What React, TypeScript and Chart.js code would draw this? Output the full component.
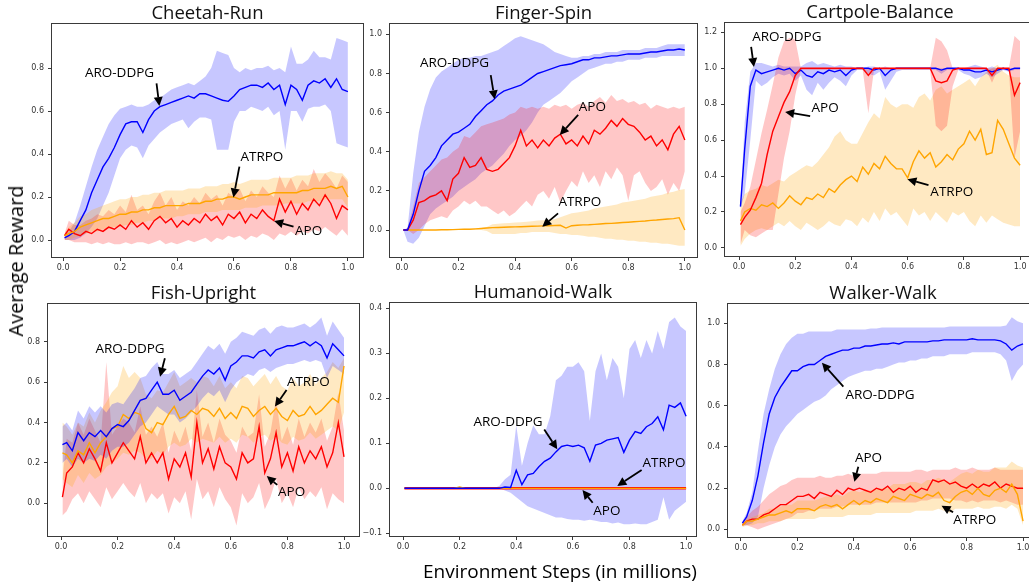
import React, { useEffect, useRef } from "react";
import { Chart, registerables } from "chart.js";

Chart.register(...registerables);

// ---------------- data ----------------
const STEPS = [
  0.005, 0.02, 0.04, 0.06, 0.08, 0.1, 0.12, 0.14, 0.16, 0.18,
  0.2, 0.22, 0.24, 0.26, 0.28, 0.3, 0.32, 0.34, 0.36, 0.38,
  0.4, 0.42, 0.44, 0.46, 0.48, 0.5, 0.52, 0.54, 0.56, 0.58,
  0.6, 0.62, 0.64, 0.66, 0.68, 0.7, 0.72, 0.74, 0.76, 0.78,
  0.8, 0.82, 0.84, 0.86, 0.88, 0.9, 0.92, 0.94, 0.96, 0.98,
  1.0,
];

const X_TICKS = [0, 0.2, 0.4, 0.6, 0.8, 1.0];
const Y_TICKS_A = [0, 0.2, 0.4, 0.6, 0.8];
const Y_TICKS_B = [0, 0.2, 0.4, 0.6, 0.8, 1.0];
const Y_TICKS_C = [0, 0.2, 0.4, 0.6, 0.8, 1.0, 1.2];
const Y_TICKS_D = [-0.1, 0, 0.1, 0.2, 0.3, 0.4];

// Cheetah-Run
const CHEETAH_ARO = [
  0.01, 0.02, 0.04, 0.09, 0.14, 0.22, 0.28, 0.34, 0.38, 0.43,
  0.49, 0.54, 0.55, 0.55, 0.5, 0.56, 0.6, 0.62, 0.63, 0.64,
  0.65, 0.66, 0.67, 0.66, 0.68, 0.68, 0.67, 0.66, 0.65, 0.645,
  0.67, 0.7, 0.71, 0.72, 0.72, 0.71, 0.73, 0.7, 0.72, 0.63,
  0.72, 0.7, 0.65, 0.72, 0.74, 0.73, 0.75, 0.71, 0.75, 0.7,
  0.69,
];
const CHEETAH_ARO_LO = [
  0.0, 0.0, 0.0, 0.01, 0.03, 0.06, 0.1, 0.16, 0.22, 0.3,
  0.38, 0.42, 0.44, 0.43, 0.38, 0.44, 0.47, 0.5, 0.52, 0.54,
  0.55, 0.56, 0.52, 0.55, 0.57, 0.57, 0.56, 0.42, 0.42, 0.42,
  0.55, 0.6, 0.6, 0.62, 0.61, 0.6, 0.62, 0.58, 0.6, 0.42,
  0.6, 0.6, 0.55, 0.61, 0.62, 0.62, 0.63, 0.6, 0.45, 0.44,
  0.43,
];
const CHEETAH_ARO_HI = [
  0.02, 0.04, 0.08, 0.16, 0.25, 0.34, 0.42, 0.48, 0.54, 0.58,
  0.61, 0.62, 0.63, 0.62, 0.62, 0.63, 0.65, 0.66, 0.68, 0.7,
  0.71, 0.72, 0.73, 0.72, 0.74, 0.76, 0.8, 0.88, 0.87, 0.86,
  0.8, 0.78, 0.8, 0.79, 0.8, 0.8, 0.81, 0.79, 0.8, 0.78,
  0.9, 0.82, 0.82, 0.84, 0.88, 0.85, 0.85, 0.84, 0.94, 0.93,
  0.92,
];
const CHEETAH_ATRPO = [
  0.02, 0.03, 0.04, 0.06, 0.07, 0.08, 0.09, 0.1, 0.1, 0.11,
  0.12, 0.12, 0.13, 0.13, 0.14, 0.14, 0.15, 0.15, 0.16, 0.16,
  0.16, 0.16, 0.17, 0.17, 0.17, 0.18, 0.18, 0.19, 0.19, 0.2,
  0.2, 0.19, 0.2, 0.21, 0.21, 0.21, 0.21, 0.22, 0.22, 0.22,
  0.22, 0.22, 0.23, 0.23, 0.24, 0.24, 0.24, 0.25, 0.24, 0.25,
  0.2,
];
const CHEETAH_ATRPO_LO = [
  0.0, 0.0, 0.01, 0.02, 0.03, 0.04, 0.04, 0.05, 0.05, 0.06,
  0.06, 0.07, 0.07, 0.08, 0.08, 0.09, 0.09, 0.1, 0.1, 0.1,
  0.11, 0.11, 0.12, 0.12, 0.12, 0.13, 0.13, 0.13, 0.14, 0.14,
  0.14, 0.14, 0.15, 0.15, 0.15, 0.16, 0.16, 0.16, 0.16, 0.17,
  0.17, 0.17, 0.17, 0.18, 0.18, 0.18, 0.19, 0.19, 0.19, 0.19,
  0.15,
];
const CHEETAH_ATRPO_HI = [
  0.03, 0.06, 0.08, 0.11, 0.12, 0.14, 0.15, 0.16, 0.17, 0.18,
  0.19, 0.19, 0.2, 0.2, 0.21, 0.21, 0.22, 0.22, 0.23, 0.23,
  0.23, 0.23, 0.24, 0.24, 0.24, 0.25, 0.25, 0.25, 0.26, 0.26,
  0.27, 0.26, 0.27, 0.28, 0.28, 0.28, 0.28, 0.29, 0.29, 0.29,
  0.29, 0.3, 0.3, 0.3, 0.31, 0.31, 0.31, 0.32, 0.31, 0.31,
  0.28,
];
const CHEETAH_APO = [
  0.02, 0.05, 0.03, 0.02, 0.04, 0.03, 0.05, 0.04, 0.06, 0.05,
  0.07, 0.05, 0.09, 0.06, 0.08, 0.05, 0.09, 0.11, 0.08, 0.1,
  0.06, 0.09, 0.07, 0.1, 0.08, 0.12, 0.09, 0.11, 0.07, 0.12,
  0.1, 0.13, 0.08, 0.12, 0.1, 0.14, 0.11, 0.09, 0.19, 0.13,
  0.18, 0.12, 0.17, 0.14, 0.19, 0.16, 0.21, 0.17, 0.1, 0.16,
  0.14,
];
const CHEETAH_APO_LO = [
  0.0, 0.0, -0.01, -0.01, -0.01, -0.02, -0.01, -0.02, -0.01, -0.02,
  -0.02, -0.01, -0.02, -0.01, -0.01, -0.02, -0.01, 0.0, -0.02, -0.01,
  -0.02, -0.01, 0.0, -0.01, 0.0, 0.01, -0.01, 0.01, 0.0, 0.02,
  0.01, 0.02, 0.0, 0.02, 0.01, 0.03, 0.02, 0.0, 0.03, 0.02,
  0.04, 0.02, 0.04, 0.03, 0.05, 0.04, 0.06, 0.04, 0.02, 0.05,
  0.02,
];
const CHEETAH_APO_HI = [
  0.03, 0.09, 0.07, 0.07, 0.09, 0.1, 0.12, 0.11, 0.14, 0.12,
  0.16, 0.13, 0.21, 0.14, 0.16, 0.12, 0.18, 0.22, 0.16, 0.2,
  0.14, 0.18, 0.16, 0.2, 0.17, 0.22, 0.19, 0.21, 0.16, 0.22,
  0.2, 0.24, 0.18, 0.23, 0.2, 0.25, 0.22, 0.2, 0.3, 0.24,
  0.29, 0.23, 0.28, 0.25, 0.33, 0.27, 0.31, 0.28, 0.24, 0.3,
  0.27,
];

// Finger-Spin
const FINGER_ARO = [
  0.0, 0.0, 0.08, 0.2, 0.3, 0.33, 0.37, 0.43, 0.46, 0.49,
  0.5, 0.52, 0.54, 0.58, 0.61, 0.64, 0.66, 0.69, 0.71, 0.72,
  0.73, 0.74, 0.76, 0.78, 0.8, 0.81, 0.82, 0.83, 0.84, 0.845,
  0.85, 0.86, 0.87, 0.87, 0.88, 0.88, 0.885, 0.89, 0.89, 0.895,
  0.9, 0.9, 0.9, 0.905, 0.91, 0.91, 0.915, 0.92, 0.92, 0.925,
  0.92,
];
const FINGER_ARO_LO = [
  0.0, -0.06, -0.07, -0.04, 0.02, 0.08, 0.11, 0.13, 0.15, 0.17,
  0.2, 0.22, 0.24, 0.26, 0.29, 0.31, 0.33, 0.36, 0.39, 0.43,
  0.46, 0.48, 0.51, 0.55, 0.6, 0.64, 0.66, 0.68, 0.7, 0.73,
  0.76, 0.78, 0.8, 0.82, 0.83, 0.84, 0.85, 0.85, 0.86, 0.86,
  0.87, 0.87, 0.87, 0.88, 0.88, 0.88, 0.89, 0.89, 0.89, 0.89,
  0.89,
];
const FINGER_ARO_HI = [
  0.0, 0.01, 0.29, 0.5, 0.63, 0.72, 0.78, 0.81, 0.83, 0.85,
  0.87, 0.88, 0.88, 0.89, 0.89, 0.9, 0.91, 0.92, 0.94, 0.96,
  0.98, 0.99, 0.98, 0.97, 0.96, 0.95, 0.93, 0.91, 0.9, 0.89,
  0.88, 0.88, 0.89, 0.89, 0.9, 0.9, 0.91, 0.91, 0.91, 0.92,
  0.92, 0.92, 0.92, 0.93, 0.93, 0.93, 0.94, 0.95, 0.95, 0.95,
  0.95,
];
const FINGER_APO = [
  0.0, 0.0, 0.05, 0.14, 0.15, 0.17, 0.18, 0.2, 0.15, 0.26,
  0.29, 0.37, 0.32, 0.33, 0.37, 0.31, 0.3, 0.31, 0.34, 0.37,
  0.43, 0.51, 0.43, 0.46, 0.42, 0.46, 0.43, 0.47, 0.49, 0.44,
  0.46, 0.43, 0.48, 0.44, 0.51, 0.49, 0.52, 0.56, 0.53, 0.57,
  0.54, 0.53, 0.5, 0.46, 0.48, 0.43, 0.46, 0.41, 0.49, 0.53,
  0.46,
];
const FINGER_APO_LO = [
  0.0, 0.0, -0.02, 0.0, 0.03, 0.05, 0.06, 0.07, 0.06, 0.1,
  0.12, 0.15, 0.13, 0.15, 0.12, 0.12, 0.1, 0.08, 0.1, 0.07,
  0.09, 0.12, 0.15, 0.12, 0.18, 0.2, 0.16, 0.22, 0.14, 0.2,
  0.25, 0.22, 0.3, 0.24, 0.28, 0.22, 0.3, 0.26, 0.32, 0.28,
  0.15, 0.28, 0.3, 0.24, 0.2, 0.22, 0.26, 0.18, 0.24, 0.2,
  0.3,
];
const FINGER_APO_HI = [
  0.0, 0.01, 0.12, 0.24, 0.27, 0.3, 0.33, 0.36, 0.37, 0.4,
  0.42, 0.48, 0.47, 0.5, 0.53, 0.54, 0.55, 0.56, 0.57, 0.59,
  0.6, 0.63, 0.62, 0.63, 0.62, 0.63, 0.62, 0.64, 0.63, 0.64,
  0.62, 0.64, 0.65, 0.63, 0.66, 0.68, 0.65, 0.69, 0.66, 0.67,
  0.65, 0.66, 0.64, 0.65, 0.62, 0.64, 0.63, 0.62, 0.63, 0.62,
  0.63,
];
const FINGER_ATRPO = [
  0.0, 0.0, 0.0, 0.0, 0.0, 0.0, 0.0, 0.001, 0.001, 0.002,
  0.003, 0.004, 0.004, 0.006, 0.008, 0.01, 0.012, 0.013, 0.014, 0.015,
  0.016, 0.017, 0.018, 0.019, 0.02, 0.021, 0.022, 0.023, 0.024, 0.01,
  0.022, 0.024, 0.026, 0.027, 0.029, 0.031, 0.033, 0.034, 0.036, 0.038,
  0.04, 0.042, 0.044, 0.046, 0.049, 0.051, 0.054, 0.056, 0.058, 0.063,
  0.0,
];
const FINGER_ATRPO_LO = [
  0.0, 0.0, 0.0, 0.0, 0.0, 0.0, 0.0, 0.0, 0.0, 0.0,
  0.0, 0.0, 0.0, 0.0, 0.0, -0.005, -0.02, -0.02, -0.02, -0.02,
  -0.02, -0.015, -0.015, -0.01, -0.01, -0.01, -0.01, -0.015, -0.02, -0.02,
  -0.025, -0.025, -0.03, -0.035, -0.035, -0.04, -0.045, -0.045, -0.05, -0.05,
  -0.055, -0.055, -0.06, -0.06, -0.065, -0.065, -0.07, -0.07, -0.075, -0.08,
  -0.08,
];
const FINGER_ATRPO_HI = [
  0.0, 0.0, 0.0, 0.0, 0.0, 0.0, 0.0, 0.0, 0.0, 0.0,
  0.005, 0.006, 0.007, 0.008, 0.01, 0.015, 0.03, 0.032, 0.034, 0.036,
  0.038, 0.04, 0.042, 0.045, 0.048, 0.05, 0.052, 0.055, 0.065, 0.075,
  0.085, 0.09, 0.095, 0.1, 0.11, 0.115, 0.12, 0.125, 0.13, 0.14,
  0.145, 0.15, 0.155, 0.16, 0.17, 0.175, 0.18, 0.19, 0.195, 0.205,
  0.21,
];

// Cartpole-Balance
const CART_ARO = [
  0.23, 0.55, 0.9, 0.99, 0.97, 0.98, 0.99, 1.0, 0.99, 1.0,
  0.97, 0.99, 0.96, 0.95, 0.98, 0.97, 0.99, 0.98, 0.99, 0.96,
  0.99, 1.0, 1.0, 1.0, 0.99, 1.0, 0.96, 0.99, 1.0, 1.0,
  1.0, 1.0, 1.0, 1.0, 1.0, 1.0, 0.99, 1.0, 1.0, 1.0,
  0.99, 0.99, 0.98, 0.98, 0.99, 0.98, 0.99, 1.0, 0.99, 1.0,
  1.0,
];
const CART_ARO_LO = [
  0.22, 0.3, 0.6, 0.93, 0.9, 0.92, 0.95, 0.97, 0.96, 0.97,
  0.93, 0.96, 0.88, 0.85, 0.92, 0.88, 0.92, 0.95, 0.93, 0.9,
  0.96, 0.99, 0.99, 0.97, 0.96, 0.98, 0.88, 0.93, 0.98, 0.99,
  0.99, 0.99, 0.99, 0.99, 0.99, 0.99, 0.97, 0.99, 0.99, 0.99,
  0.97, 0.96, 0.94, 0.95, 0.97, 0.95, 0.97, 0.99, 0.98, 0.99,
  0.99,
];
const CART_ARO_HI = [
  0.24, 0.7, 0.98, 1.03, 1.03, 1.02, 1.01, 1.02, 1.01, 1.01,
  1.01, 1.01, 1.03, 1.04, 1.02, 1.03, 1.02, 1.01, 1.02, 1.01,
  1.01, 1.0, 1.0, 1.01, 1.01, 1.0, 1.01, 1.0, 1.0, 1.0,
  1.0, 1.0, 1.0, 1.0, 1.0, 1.0, 1.0, 1.0, 1.0, 1.0,
  1.0, 1.01, 1.02, 1.01, 1.0, 1.01, 1.0, 1.0, 1.0, 1.0,
  1.0,
];
const CART_APO = [
  0.13, 0.17, 0.21, 0.28, 0.36, 0.52, 0.65, 0.73, 0.81, 0.87,
  0.96, 1.0, 1.0, 1.0, 1.0, 1.0, 1.0, 1.0, 1.0, 1.0,
  1.0, 1.0, 1.0, 0.96, 1.0, 1.0, 1.0, 1.0, 1.0, 1.0,
  1.0, 1.0, 1.0, 1.0, 1.0, 0.93, 0.92, 0.93, 0.99, 1.0,
  1.0, 1.0, 1.0, 1.0, 1.0, 0.96, 1.0, 1.0, 1.0, 0.85,
  0.92,
];
const CART_APO_LO = [
  0.02, 0.1, 0.07, 0.06, 0.08, 0.1, 0.1, 0.3, 0.5, 0.65,
  0.85, 0.99, 0.99, 0.99, 0.99, 0.99, 0.99, 0.99, 0.99, 0.99,
  0.99, 0.99, 0.99, 0.75, 0.99, 0.99, 0.99, 0.99, 0.99, 0.99,
  0.99, 0.99, 0.99, 0.99, 0.99, 0.68, 0.65, 0.68, 0.9, 0.99,
  0.99, 0.99, 0.99, 0.99, 0.99, 0.92, 0.99, 0.99, 0.99, 0.5,
  0.65,
];
const CART_APO_HI = [
  0.2, 0.25, 0.34, 0.49, 0.64, 0.77, 0.91, 1.06, 1.15, 1.17,
  1.16, 1.0, 1.0, 1.0, 1.0, 1.0, 1.0, 1.0, 1.0, 1.0,
  1.0, 1.0, 1.0, 1.0, 1.0, 1.0, 1.0, 1.0, 1.0, 1.0,
  1.0, 1.0, 1.0, 1.0, 1.0, 1.17, 1.15, 1.1, 1.0, 1.0,
  1.0, 1.0, 1.0, 1.0, 1.0, 1.0, 1.0, 1.0, 1.0, 1.18,
  1.15,
];
const CART_ATRPO = [
  0.15, 0.2, 0.22, 0.21, 0.24, 0.23, 0.25, 0.22, 0.25, 0.29,
  0.26, 0.24, 0.28, 0.27, 0.3, 0.28, 0.33, 0.31, 0.35, 0.38,
  0.4, 0.37, 0.45, 0.41, 0.47, 0.44, 0.51, 0.47, 0.44, 0.44,
  0.39, 0.48, 0.54, 0.5, 0.53, 0.45, 0.48, 0.52, 0.49, 0.55,
  0.58, 0.65, 0.6, 0.66, 0.52, 0.53, 0.71, 0.66, 0.58, 0.5,
  0.46,
];
const CART_ATRPO_LO = [
  0.01, 0.05, 0.08, 0.1, 0.11, 0.1, 0.12, 0.14, 0.12, 0.15,
  0.12, 0.1, 0.14, 0.12, 0.1, 0.12, 0.15, 0.13, 0.12, 0.16,
  0.15, 0.12, 0.17, 0.14, 0.2, 0.15, 0.22, 0.18, 0.2, 0.16,
  0.12, 0.22, 0.18, 0.2, 0.15, 0.2, 0.17, 0.14, 0.2, 0.18,
  0.2, 0.15, 0.12, 0.18, 0.14, 0.18, 0.16, 0.14, 0.13, 0.12,
  0.12,
];
const CART_ATRPO_HI = [
  0.25, 0.3, 0.32, 0.33, 0.35, 0.34, 0.36, 0.38, 0.37, 0.4,
  0.42, 0.44, 0.46, 0.45, 0.48, 0.52, 0.56, 0.62, 0.65, 0.6,
  0.58, 0.58, 0.64, 0.7, 0.75, 0.72, 0.84, 0.8, 0.78, 0.8,
  0.8, 0.78, 0.84, 0.86, 0.82, 0.88, 0.9, 0.86, 0.88, 0.9,
  0.92, 0.94, 0.9, 0.95, 0.98, 1.0, 1.02, 0.98, 0.96, 0.95,
  0.95,
];

// Fish-Upright
const FISH_ARO = [
  0.29, 0.3, 0.26, 0.35, 0.31, 0.35, 0.33, 0.36, 0.33, 0.37,
  0.39, 0.38, 0.41, 0.46, 0.51, 0.52, 0.56, 0.6, 0.54, 0.54,
  0.56, 0.51, 0.53, 0.55, 0.59, 0.63, 0.66, 0.64, 0.67, 0.61,
  0.68, 0.7, 0.73, 0.73, 0.72, 0.75, 0.76, 0.73, 0.76, 0.77,
  0.78, 0.78, 0.79, 0.8, 0.78, 0.8, 0.78, 0.72, 0.79, 0.76,
  0.73,
];
const FISH_ARO_LO = [
  0.2, 0.22, 0.18, 0.22, 0.2, 0.22, 0.21, 0.24, 0.22, 0.26,
  0.28, 0.28, 0.3, 0.34, 0.38, 0.4, 0.44, 0.48, 0.46, 0.44,
  0.44, 0.4, 0.42, 0.45, 0.48, 0.52, 0.55, 0.53, 0.56, 0.5,
  0.56, 0.6, 0.62, 0.64, 0.63, 0.66, 0.67, 0.65, 0.67, 0.68,
  0.69, 0.69, 0.7, 0.71, 0.7, 0.71, 0.7, 0.62, 0.68, 0.66,
  0.64,
];
const FISH_ARO_HI = [
  0.38, 0.4, 0.36, 0.46, 0.42, 0.48, 0.45, 0.48, 0.45, 0.49,
  0.5, 0.49, 0.53, 0.57, 0.62, 0.63, 0.67, 0.7, 0.64, 0.64,
  0.66, 0.62, 0.64, 0.66, 0.7, 0.74, 0.78, 0.76, 0.79, 0.74,
  0.8, 0.82, 0.85, 0.84, 0.83, 0.86, 0.87, 0.84, 0.87, 0.88,
  0.87, 0.87, 0.88, 0.89, 0.87, 0.89, 0.92, 0.83, 0.9, 0.86,
  0.82,
];
const FISH_ATRPO = [
  0.25, 0.24, 0.2, 0.26, 0.24, 0.3, 0.25, 0.3, 0.33, 0.37,
  0.38, 0.44, 0.42, 0.45, 0.44, 0.37, 0.35, 0.4, 0.39, 0.44,
  0.48, 0.42, 0.43, 0.46, 0.44, 0.47, 0.46, 0.43, 0.47, 0.42,
  0.45, 0.42, 0.48, 0.47, 0.43, 0.46, 0.48, 0.44, 0.47, 0.43,
  0.41, 0.46, 0.43, 0.44, 0.48, 0.44, 0.46, 0.49, 0.52, 0.5,
  0.68,
];
const FISH_ATRPO_LO = [
  0.12, 0.1, 0.08, 0.14, 0.1, 0.15, 0.12, 0.14, 0.18, 0.2,
  0.22, 0.25, 0.24, 0.26, 0.25, 0.22, 0.22, 0.26, 0.24, 0.28,
  0.3, 0.28, 0.29, 0.32, 0.3, 0.32, 0.31, 0.3, 0.33, 0.3,
  0.32, 0.3, 0.34, 0.33, 0.3, 0.33, 0.34, 0.31, 0.33, 0.3,
  0.29, 0.33, 0.31, 0.32, 0.35, 0.32, 0.34, 0.36, 0.38, 0.36,
  0.45,
];
const FISH_ATRPO_HI = [
  0.4, 0.38, 0.34, 0.4, 0.38, 0.45, 0.4, 0.46, 0.5, 0.55,
  0.58, 0.68, 0.62, 0.65, 0.62, 0.54, 0.52, 0.56, 0.55, 0.6,
  0.65, 0.58, 0.6, 0.62, 0.6, 0.63, 0.62, 0.58, 0.63, 0.57,
  0.6, 0.57, 0.63, 0.62, 0.58, 0.61, 0.64, 0.59, 0.63, 0.58,
  0.56, 0.62, 0.58, 0.6, 0.64, 0.59, 0.62, 0.65, 0.7, 0.67,
  0.72,
];
const FISH_APO = [
  0.03, 0.15, 0.18, 0.25, 0.2, 0.27, 0.22, 0.16, 0.3, 0.2,
  0.25, 0.3, 0.26, 0.22, 0.33, 0.2, 0.25, 0.2, 0.25, 0.12,
  0.22, 0.18, 0.25, 0.13, 0.4, 0.2, 0.27, 0.17, 0.28, 0.2,
  0.18, 0.12, 0.25, 0.2, 0.22, 0.38, 0.15, 0.22, 0.35, 0.18,
  0.25, 0.16, 0.28, 0.2, 0.26, 0.22, 0.28, 0.18, 0.25, 0.4,
  0.23,
];
const FISH_APO_LO = [
  -0.06, -0.04, 0.02, 0.05, 0.0, 0.06, 0.02, -0.02, 0.08, 0.02,
  0.06, 0.1, 0.06, 0.03, 0.1, 0.0, 0.05, 0.02, 0.05, -0.05,
  0.03, 0.0, 0.06, -0.08, 0.12, 0.02, 0.06, -0.02, 0.08, 0.02,
  -0.02, -0.11, 0.05, 0.0, 0.03, 0.1, -0.03, 0.03, 0.12, 0.0,
  0.05, -0.02, 0.08, 0.02, 0.06, 0.03, 0.08, -0.03, 0.05, 0.02,
  0.0,
];
const FISH_APO_HI = [
  0.12, 0.32, 0.3, 0.4, 0.34, 0.42, 0.36, 0.3, 0.7, 0.34,
  0.38, 0.42, 0.4, 0.35, 0.48, 0.34, 0.38, 0.33, 0.4, 0.25,
  0.36, 0.3, 0.38, 0.26, 0.56, 0.33, 0.4, 0.3, 0.42, 0.34,
  0.31, 0.25, 0.38, 0.33, 0.35, 0.54, 0.28, 0.35, 0.52, 0.31,
  0.38, 0.29, 0.42, 0.33, 0.4, 0.35, 0.42, 0.31, 0.38, 0.55,
  0.36,
];

// Humanoid-Walk
const HUM_ARO = [
  0, 0, 0, 0, 0, 0, 0, 0, 0, 0,
  0, 0, 0, 0, 0, 0, 0, 0, 0.003, 0.002,
  0.04, 0.008, 0.03, 0.033, 0.048, 0.06, 0.067, 0.081, 0.093, 0.096,
  0.093, 0.096, 0.09, 0.06, 0.096, 0.1, 0.107, 0.11, 0.113, 0.08,
  0.107, 0.126, 0.122, 0.137, 0.144, 0.159, 0.13, 0.185, 0.18, 0.19,
  0.16,
];
const HUM_ARO_LO = [
  0, 0, 0, 0, 0, 0, 0, 0, 0, 0,
  0, 0, 0, 0, 0, 0, 0, 0, -0.005, -0.01,
  -0.02, -0.03, -0.04, -0.045, -0.05, -0.055, -0.06, -0.065, -0.065, -0.068,
  -0.07, -0.07, -0.072, -0.07, -0.072, -0.075, -0.075, -0.078, -0.076, -0.08,
  -0.08, -0.078, -0.08, -0.08, -0.075, -0.07, -0.02, -0.07, -0.05, -0.04,
  -0.03,
];
const HUM_ARO_HI = [
  0, 0, 0, 0, 0, 0, 0, 0, 0, 0,
  0, 0, 0, 0, 0, 0, 0, 0.005, 0.02, 0.03,
  0.14, 0.05, 0.1, 0.14, 0.12, 0.12, 0.16, 0.24, 0.25, 0.27,
  0.27, 0.28, 0.26, 0.15, 0.26, 0.3, 0.24, 0.29, 0.27, 0.2,
  0.31, 0.33, 0.29, 0.33, 0.3, 0.35, 0.31, 0.37, 0.38, 0.36,
  0.35,
];
const HUM_APO = [
  0, 0, 0, 0, 0, 0, 0, 0, 0, 0,
  0, 0, 0, 0, 0, 0, 0, 0, 0, 0,
  0, 0, 0, 0, 0, 0, 0, 0, 0, 0,
  0, 0, 0, 0, 0, 0, 0, 0, 0, 0,
  0, 0, 0, 0, 0, 0, 0, 0, 0, 0,
  0,
];
const HUM_ATRPO = [
  0, 0, 0, 0, 0, 0, 0, 0, 0, 0,
  0.003, 0, 0, 0, 0, 0, 0, 0, 0, 0,
  0, 0, 0, 0, 0, 0, 0, 0, 0, 0,
  0, 0, 0, 0, 0, 0, 0, 0, 0, 0,
  0, 0, 0, 0, 0, 0, 0, 0, 0, 0,
  0,
];

// Walker-Walk
const WALK_ARO = [
  0.03, 0.06, 0.14, 0.26, 0.42, 0.56, 0.64, 0.69, 0.73, 0.77,
  0.77, 0.79, 0.8, 0.8, 0.82, 0.84, 0.85, 0.86, 0.87, 0.87,
  0.88, 0.88, 0.89, 0.89, 0.895, 0.9, 0.9, 0.905, 0.9, 0.91,
  0.91, 0.91, 0.91, 0.91, 0.915, 0.915, 0.92, 0.92, 0.92, 0.92,
  0.92, 0.925, 0.92, 0.92, 0.92, 0.92, 0.915, 0.9, 0.87, 0.89,
  0.9,
];
const WALK_ARO_LO = [
  0.02, 0.02, 0.03, 0.06, 0.2, 0.31, 0.4, 0.46, 0.5, 0.53,
  0.56, 0.58, 0.6, 0.62, 0.63, 0.65, 0.68, 0.7, 0.72, 0.74,
  0.75, 0.76, 0.77, 0.77, 0.78, 0.78, 0.79, 0.8, 0.81, 0.81,
  0.82, 0.82, 0.83, 0.83, 0.84, 0.84, 0.84, 0.85, 0.85, 0.85,
  0.85, 0.86, 0.86, 0.86, 0.86, 0.86, 0.85, 0.82, 0.72, 0.77,
  0.8,
];
const WALK_ARO_HI = [
  0.04, 0.08, 0.18, 0.38, 0.56, 0.68, 0.78, 0.85, 0.9, 0.93,
  0.95, 0.95, 0.96, 0.96, 0.96, 0.96, 0.96, 0.97, 0.97, 0.97,
  0.97, 0.97, 0.97, 0.975, 0.975, 0.98, 0.98, 0.98, 0.98, 0.98,
  0.98, 0.98, 0.98, 0.98, 0.98, 0.98, 0.98, 0.985, 0.985, 0.985,
  0.985, 0.985, 0.985, 0.985, 0.985, 0.985, 0.985, 0.99, 1.03, 1.01,
  1.0,
];
const WALK_APO = [
  0.02, 0.04, 0.05, 0.05, 0.07, 0.08, 0.1, 0.12, 0.12, 0.14,
  0.16, 0.16, 0.17, 0.15, 0.18, 0.17, 0.16, 0.19, 0.17, 0.2,
  0.19, 0.2, 0.19, 0.18, 0.2, 0.19, 0.21, 0.18, 0.2, 0.19,
  0.21, 0.18, 0.2, 0.19, 0.24, 0.23, 0.24, 0.22, 0.23, 0.21,
  0.2, 0.22, 0.2, 0.22, 0.21, 0.23, 0.2, 0.22, 0.21, 0.2,
  0.2,
];
const WALK_APO_LO = [
  0.02, 0.02, 0.01, 0.0, 0.01, 0.02, 0.03, 0.04, 0.05, 0.06,
  0.08, 0.08, 0.09, 0.09, 0.1, 0.1, 0.1, 0.11, 0.11, 0.12,
  0.12, 0.12, 0.12, 0.12, 0.13, 0.13, 0.13, 0.13, 0.13, 0.13,
  0.13, 0.13, 0.14, 0.14, 0.15, 0.15, 0.15, 0.15, 0.14, 0.14,
  0.13, 0.14, 0.13, 0.14, 0.14, 0.14, 0.13, 0.14, 0.13, 0.12,
  0.12,
];
const WALK_APO_HI = [
  0.03, 0.06, 0.09, 0.11, 0.14, 0.17, 0.19, 0.21, 0.22, 0.24,
  0.25, 0.25, 0.25, 0.25, 0.26, 0.25, 0.25, 0.26, 0.26, 0.27,
  0.26, 0.27, 0.27, 0.27, 0.27, 0.28, 0.28, 0.28, 0.28, 0.28,
  0.28, 0.29, 0.29, 0.28, 0.29, 0.29, 0.29, 0.29, 0.3, 0.29,
  0.29, 0.3, 0.29, 0.29, 0.29, 0.3, 0.29, 0.29, 0.29, 0.29,
  0.29,
];
const WALK_ATRPO = [
  0.02, 0.04, 0.04, 0.05, 0.06, 0.07, 0.07, 0.08, 0.09, 0.08,
  0.1, 0.1, 0.1, 0.09, 0.11, 0.12, 0.11, 0.12, 0.1, 0.12,
  0.14, 0.12, 0.14, 0.13, 0.15, 0.14, 0.13, 0.16, 0.15, 0.14,
  0.17, 0.16, 0.15, 0.17, 0.16, 0.18, 0.14, 0.13, 0.16, 0.18,
  0.19, 0.17, 0.2, 0.17, 0.16, 0.19, 0.2, 0.18, 0.22, 0.17,
  0.04,
];
const WALK_ATRPO_LO = [
  0.01, 0.02, 0.02, 0.03, 0.03, 0.04, 0.04, 0.04, 0.05, 0.05,
  0.05, 0.05, 0.05, 0.05, 0.06, 0.06, 0.06, 0.06, 0.06, 0.07,
  0.07, 0.07, 0.07, 0.07, 0.08, 0.08, 0.08, 0.08, 0.08, 0.08,
  0.08, 0.09, 0.09, 0.09, 0.09, 0.1, 0.09, 0.08, 0.1, 0.1,
  0.1, 0.1, 0.11, 0.1, 0.1, 0.11, 0.11, 0.1, 0.12, 0.1,
  0.02,
];
const WALK_ATRPO_HI = [
  0.03, 0.05, 0.06, 0.07, 0.08, 0.1, 0.1, 0.11, 0.12, 0.12,
  0.14, 0.14, 0.14, 0.14, 0.15, 0.16, 0.16, 0.17, 0.16, 0.18,
  0.19, 0.18, 0.19, 0.19, 0.2, 0.2, 0.2, 0.22, 0.22, 0.22,
  0.23, 0.23, 0.22, 0.24, 0.24, 0.25, 0.24, 0.23, 0.25, 0.27,
  0.28, 0.27, 0.29, 0.28, 0.28, 0.3, 0.3, 0.3, 0.33, 0.31,
  0.3,
];

// ---------------- styling / layout ----------------
type Key = "aro" | "apo" | "atrpo";
const LINE_COLOR: Record<Key, string> = { aro: "#0000ff", apo: "#ff0000", atrpo: "#ffa500" };
const BAND_COLOR: Record<Key, string> = {
  aro: "rgba(0,0,255,0.22)",
  apo: "rgba(255,0,0,0.22)",
  atrpo: "rgba(255,165,0,0.24)",
};

interface Series { key: Key; mean: number[]; lo?: number[]; hi?: number[]; width?: number }
interface Note { text: string; at: [number, number]; from: [number, number]; to: [number, number] }
interface PanelCfg {
  title: string;
  box: [number, number, number, number];
  x: [number, number];
  y: [number, number];
  yTicks: number[];
  series: Series[];
  lineOrder: Key[];
  notes: Note[];
}

const PANELS: PanelCfg[] = [
  {
    title: "Cheetah-Run",
    box: [52, 24, 311, 233],
    x: [-0.039, 1.053],
    y: [-0.079, 1.0047],
    yTicks: Y_TICKS_A,
    series: [
      { key: "aro", mean: CHEETAH_ARO, lo: CHEETAH_ARO_LO, hi: CHEETAH_ARO_HI },
      { key: "apo", mean: CHEETAH_APO, lo: CHEETAH_APO_LO, hi: CHEETAH_APO_HI },
      { key: "atrpo", mean: CHEETAH_ATRPO, lo: CHEETAH_ATRPO_LO, hi: CHEETAH_ATRPO_HI },
    ],
    lineOrder: ["aro", "apo", "atrpo"],
    notes: [
      { text: "ARO-DDPG", at: [0.198, 0.775], from: [0.328, 0.729], to: [0.338, 0.623] },
      { text: "ATRPO", at: [0.698, 0.385], from: [0.619, 0.341], to: [0.598, 0.198] },
      { text: "APO", at: [0.862, 0.043], from: [0.809, 0.062], to: [0.741, 0.088] },
    ],
  },
  {
    title: "Finger-Spin",
    box: [390, 24, 307, 233],
    x: [-0.042, 1.043],
    y: [-0.138, 1.053],
    yTicks: Y_TICKS_B,
    series: [
      { key: "aro", mean: FINGER_ARO, lo: FINGER_ARO_LO, hi: FINGER_ARO_HI },
      { key: "apo", mean: FINGER_APO, lo: FINGER_APO_LO, hi: FINGER_APO_HI },
      { key: "atrpo", mean: FINGER_ATRPO, lo: FINGER_ATRPO_LO, hi: FINGER_ATRPO_HI },
    ],
    lineOrder: ["atrpo", "apo", "aro"],
    notes: [
      { text: "ARO-DDPG", at: [0.186, 0.852], from: [0.314, 0.792], to: [0.328, 0.668] },
      { text: "APO", at: [0.673, 0.627], from: [0.623, 0.588], to: [0.558, 0.486] },
      { text: "ATRPO", at: [0.629, 0.141], from: [0.552, 0.085], to: [0.496, 0.017] },
    ],
  },
  {
    title: "Cartpole-Balance",
    box: [725, 23, 310, 233],
    x: [-0.05, 1.053],
    y: [-0.045, 1.252],
    yTicks: Y_TICKS_C,
    series: [
      { key: "atrpo", mean: CART_ATRPO, lo: CART_ATRPO_LO, hi: CART_ATRPO_HI },
      { key: "aro", mean: CART_ARO, lo: CART_ARO_LO, hi: CART_ARO_HI },
      { key: "apo", mean: CART_APO, lo: CART_APO_LO, hi: CART_APO_HI },
    ],
    lineOrder: ["atrpo", "aro", "apo"],
    notes: [
      { text: "ARO-DDPG", at: [0.17, 1.174], from: [0.043, 1.119], to: [0.053, 1.007] },
      { text: "APO", at: [0.306, 0.776], from: [0.253, 0.733], to: [0.164, 0.757] },
      { text: "ATRPO", at: [0.757, 0.312], from: [0.674, 0.349], to: [0.599, 0.382] },
    ],
  },
  {
    title: "Fish-Upright",
    box: [48, 304, 311, 232],
    x: [-0.046, 1.053],
    y: [-0.162, 0.987],
    yTicks: Y_TICKS_A,
    series: [
      { key: "apo", mean: FISH_APO, lo: FISH_APO_LO, hi: FISH_APO_HI },
      { key: "atrpo", mean: FISH_ATRPO, lo: FISH_ATRPO_LO, hi: FISH_ATRPO_HI },
      { key: "aro", mean: FISH_ARO, lo: FISH_ARO_LO, hi: FISH_ARO_HI },
    ],
    lineOrder: ["apo", "atrpo", "aro"],
    notes: [
      { text: "ARO-DDPG", at: [0.244, 0.764], from: [0.367, 0.718], to: [0.35, 0.627] },
      { text: "ATRPO", at: [0.874, 0.602], from: [0.797, 0.561], to: [0.756, 0.479] },
      { text: "APO", at: [0.815, 0.053], from: [0.764, 0.091], to: [0.727, 0.135] },
    ],
  },
  {
    title: "Humanoid-Walk",
    box: [390, 303, 306, 233],
    x: [-0.046, 1.035],
    y: [-0.106, 0.412],
    yTicks: Y_TICKS_D,
    series: [
      { key: "aro", mean: HUM_ARO, lo: HUM_ARO_LO, hi: HUM_ARO_HI },
      { key: "apo", mean: HUM_APO, width: 2.4 },
      { key: "atrpo", mean: HUM_ATRPO, width: 1.3 },
    ],
    lineOrder: ["apo", "atrpo", "aro"],
    notes: [
      { text: "ARO-DDPG", at: [0.371, 0.146], from: [0.499, 0.131], to: [0.545, 0.087] },
      { text: "ATRPO", at: [0.922, 0.057], from: [0.843, 0.041], to: [0.757, 0.005] },
      { text: "APO", at: [0.72, -0.05], from: [0.67, -0.032], to: [0.634, -0.004] },
    ],
  },
  {
    title: "Walker-Walk",
    box: [728, 304, 310, 233],
    x: [-0.046, 1.053],
    y: [-0.037, 1.094],
    yTicks: Y_TICKS_B,
    series: [
      { key: "aro", mean: WALK_ARO, lo: WALK_ARO_LO, hi: WALK_ARO_HI },
      { key: "apo", mean: WALK_APO, lo: WALK_APO_LO, hi: WALK_APO_HI },
      { key: "atrpo", mean: WALK_ATRPO, lo: WALK_ATRPO_LO, hi: WALK_ATRPO_HI },
    ],
    lineOrder: ["apo", "atrpo", "aro"],
    notes: [
      { text: "ARO-DDPG", at: [0.493, 0.652], from: [0.363, 0.693], to: [0.287, 0.809] },
      { text: "APO", at: [0.452, 0.345], from: [0.416, 0.304], to: [0.402, 0.231] },
      { text: "ATRPO", at: [0.829, 0.045], from: [0.752, 0.083], to: [0.711, 0.115] },
    ],
  },
];

const YW = 40; // y-axis strip width
const XH = 22; // x-axis strip height
const PT = 30; // room for the title
const PR = 14; // right padding

const fmt = (v: number) => {
  const s = Math.abs(v) < 1e-9 ? "0.0" : v.toFixed(1);
  return s.replace("-", "\u2212");
};

const pts = (arr: number[]) => STEPS.map((x, i) => ({ x, y: arr[i] }));

function drawArrow(ctx: CanvasRenderingContext2D, x0: number, y0: number, x1: number, y1: number) {
  const ang = Math.atan2(y1 - y0, x1 - x0);
  const hl = 9, hw = 4.5;
  const bx = x1 - hl * Math.cos(ang), by = y1 - hl * Math.sin(ang);
  ctx.beginPath();
  ctx.moveTo(x0, y0);
  ctx.lineTo(bx, by);
  ctx.lineWidth = 1.8;
  ctx.strokeStyle = "#000";
  ctx.stroke();
  ctx.beginPath();
  ctx.moveTo(x1, y1);
  ctx.lineTo(bx + hw * Math.sin(ang), by - hw * Math.cos(ang));
  ctx.lineTo(bx - hw * Math.sin(ang), by + hw * Math.cos(ang));
  ctx.closePath();
  ctx.fillStyle = "#000";
  ctx.fill();
}

function Panel({ p }: { p: PanelCfg }) {
  const ref = useRef<HTMLCanvasElement | null>(null);
  const [l, t, w, h] = p.box;
  const cw = YW + w + PR;
  const ch = PT + h + XH;

  useEffect(() => {
    if (!ref.current) return;
    const datasets: any[] = [];
    p.series.forEach((s) => {
      if (!s.lo || !s.hi) return;
      datasets.push({
        data: pts(s.lo),
        borderColor: "rgba(0,0,0,0)",
        borderWidth: 0,
        pointRadius: 0,
        fill: false,
      });
      datasets.push({
        data: pts(s.hi),
        borderColor: "rgba(0,0,0,0)",
        borderWidth: 0,
        pointRadius: 0,
        fill: "-1",
        backgroundColor: BAND_COLOR[s.key],
      });
    });
    p.lineOrder.forEach((k) => {
      const s = p.series.find((q) => q.key === k)!;
      datasets.push({
        data: pts(s.mean),
        borderColor: LINE_COLOR[k],
        borderWidth: s.width ?? 1.4,
        pointRadius: 0,
        fill: false,
      });
    });
    const n = datasets.length;
    datasets.forEach((d, i) => (d.order = n - i));

    const tickFont = { family: "DejaVu Sans", size: 8 };
    const decor = {
      id: "decor",
      afterDraw(chart: any) {
        const { ctx, chartArea: a, scales } = chart;
        ctx.save();
        ctx.strokeStyle = "#3a3a3a";
        ctx.lineWidth = 1;
        ctx.strokeRect(a.left - 0.5, a.top - 0.5, a.right - a.left + 1, a.bottom - a.top + 1);
        ctx.fillStyle = "#111";
        ctx.font = '18.5px "Open Sans"';
        ctx.textAlign = "center";
        ctx.textBaseline = "alphabetic";
        ctx.fillText(p.title, (a.left + a.right) / 2, a.top - 5);
        ctx.font = '13.5px "Open Sans"';
        ctx.textBaseline = "middle";
        ctx.fillStyle = "#000";
        p.notes.forEach((nt) => {
          const X = (v: number) => scales.x.getPixelForValue(v);
          const Y = (v: number) => scales.y.getPixelForValue(v);
          ctx.fillText(nt.text, X(nt.at[0]), Y(nt.at[1]));
          drawArrow(ctx, X(nt.from[0]), Y(nt.from[1]), X(nt.to[0]), Y(nt.to[1]));
        });
        ctx.restore();
      },
    };

    const chart = new Chart(ref.current, {
      type: "line",
      data: { datasets },
      options: {
        animation: false,
        responsive: false,
        events: [],
        layout: { padding: { left: 0, top: PT, right: PR, bottom: 0 } },
        plugins: { legend: { display: false }, tooltip: { enabled: false }, title: { display: false } },
        elements: { line: { tension: 0 } },
        scales: {
          x: {
            type: "linear",
            min: p.x[0],
            max: p.x[1],
            afterBuildTicks: (s: any) => {
              s.ticks = X_TICKS.map((v) => ({ value: v }));
            },
            afterFit: (s: any) => {
              s.height = XH;
              s.paddingLeft = 0;
              s.paddingRight = 0;
            },
            grid: { display: true, drawOnChartArea: false, drawTicks: true, tickLength: 4, color: "#3a3a3a" },
            border: { display: false },
            ticks: {
              font: tickFont,
              color: "#333",
              padding: 2,
              maxRotation: 0,
              minRotation: 0,
              autoSkip: false,
              callback: (v: any) => fmt(Number(v)),
            },
          },
          y: {
            type: "linear",
            min: p.y[0],
            max: p.y[1],
            afterBuildTicks: (s: any) => {
              s.ticks = p.yTicks.map((v) => ({ value: v }));
            },
            afterFit: (s: any) => {
              s.width = YW;
              s.paddingTop = 0;
              s.paddingBottom = 0;
            },
            grid: { display: true, drawOnChartArea: false, drawTicks: true, tickLength: 4, color: "#3a3a3a" },
            border: { display: false },
            ticks: {
              font: tickFont,
              color: "#333",
              padding: 4,
              autoSkip: false,
              callback: (v: any) => fmt(Number(v)),
            },
          },
        },
      } as any,
      plugins: [decor],
    });
    return () => chart.destroy();
  }, [p]);

  return (
    <canvas
      ref={ref}
      width={cw}
      height={ch}
      style={{ position: "absolute", left: l - YW, top: t - PT, width: cw, height: ch }}
    />
  );
}

export default function App() {
  return (
    <div
      style={{
        position: "fixed",
        left: 0,
        top: 0,
        width: 1029,
        height: 582,
        overflow: "hidden",
        background: "#fff",
      }}
    >
      {PANELS.map((p, i) => (
        <Panel key={i} p={p} />
      ))}
      <div
        style={{
          position: "absolute",
          left: 16,
          top: 261,
          transform: "translate(-50%, -50%) rotate(-90deg)",
          fontFamily: '"Open Sans"',
          fontSize: 20,
          lineHeight: 1,
          whiteSpace: "nowrap",
          color: "#000",
        }}
      >
        Average Reward
      </div>
      <div
        style={{
          position: "absolute",
          left: 560,
          top: 571,
          transform: "translate(-50%, -50%)",
          fontFamily: '"Open Sans"',
          fontSize: 19,
          lineHeight: 1,
          whiteSpace: "nowrap",
          color: "#000",
        }}
      >
        Environment Steps (in millions)
      </div>
    </div>
  );
}
